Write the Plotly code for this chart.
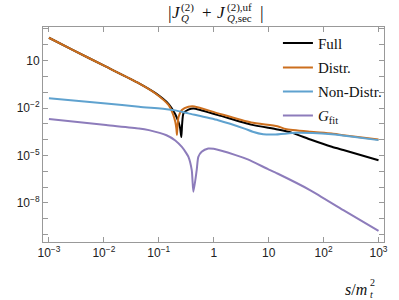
import numpy as np
import plotly.graph_objects as go

# ---- data (log10 of s/m_t^2 and log10 of |J|) ----
full_lx = [-3.0, -2.56, -1.96, -1.36, -1.06, -0.82, -0.70, -0.64, -0.61, -0.59, -0.575, -0.55, -0.46, -0.37, 0.08, 0.68, 1.16, 1.43, 1.76, 2.15, 2.36, 3.0]
full_ly = [2.44, 1.66, 0.61, -0.44, -1.06, -1.75, -2.40, -2.90, -3.30, -3.84, -3.00, -2.33, -2.10, -2.03, -2.45, -3.05, -3.36, -3.57, -3.99, -4.45, -4.66, -5.30]

distr_lx = [-3.0, -2.56, -1.96, -1.36, -1.06, -0.82, -0.74, -0.70, -0.68, -0.67, -0.66, -0.64, -0.58, -0.46, -0.35, 0.08, 0.68, 1.16, 1.31, 1.76, 2.15, 2.36, 3.0]
distr_ly = [2.44, 1.66, 0.61, -0.44, -1.08, -1.82, -2.40, -2.87, -3.30, -3.70, -3.20, -2.56, -2.13, -1.92, -1.90, -2.34, -2.92, -3.15, -3.33, -3.50, -3.61, -3.72, -3.99]

nondistr_lx = [-3.0, -1.96, -1.36, -0.82, -0.70, -0.46, 0.08, 0.56, 0.71, 0.90, 1.10, 1.50, 1.80, 2.15, 2.50, 3.0]
nondistr_ly = [-1.38, -1.71, -1.92, -2.09, -2.15, -2.34, -2.77, -3.30, -3.50, -3.66, -3.68, -3.57, -3.58, -3.66, -3.80, -4.03]

gfit_lx = [-3.0, -1.96, -1.36, -1.18, -0.86, -0.70, -0.58, -0.50, -0.46, -0.40, -0.37, -0.31, -0.28, -0.22, -0.10, 0.0, 0.40, 0.62, 0.98, 1.16, 1.76, 2.36, 3.0]
gfit_ly = [-2.70, -3.08, -3.29, -3.40, -3.72, -4.05, -4.46, -4.85, -5.09, -5.93, -7.30, -5.93, -5.09, -4.77, -4.56, -4.58, -4.98, -5.25, -5.85, -6.14, -7.20, -8.46, -9.77]

names = ["Full", "Distr.", "Non-Distr.", "<i>G</i><sub>fit</sub>"]
colors = ["#000000", "#CC6F1E", "#5FA2CF", "#8D7CBB"]

x_tickvals = [1e-3, 1e-2, 1e-1, 1, 10, 1e2, 1e3]
x_ticktext = ["10<sup>−3</sup>", "10<sup>−2</sup>", "10<sup>−1</sup>", "1", "10", "10<sup>2</sup>", "10<sup>3</sup>"]
y_tickvals = [10, 1e-2, 1e-5, 1e-8]
y_ticktext = ["10", "10<sup>−2</sup>", "10<sup>−5</sup>", "10<sup>−8</sup>"]
y_minorvals = [1e3, 1e2, 1, 1e-1, 1e-3, 1e-4, 1e-6, 1e-7, 1e-9, 1e-10]

series = [(full_lx, full_ly), (distr_lx, distr_ly), (nondistr_lx, nondistr_ly), (gfit_lx, gfit_ly)]

W, H = 399, 300
L, R, T, B = 43, 12, 27, 58
PW, PH = W - L - R, H - T - B

def px(xp):
    return (xp - L) / PW

def py(yp):
    return (H - B - yp) / PH

fig = go.Figure()
leg_names = ["legend", "legend2", "legend3", "legend4"]
leg_y = [43.3, 67.7, 91.7, 115.7]
for i, ((lx, ly), nm, c) in enumerate(zip(series, names, colors)):
    fig.add_trace(go.Scatter(
        x=10 ** np.array(lx), y=10 ** np.array(ly), mode="lines", name=nm,
        line=dict(color=c, width=2, shape="spline", smoothing=0.6),
        legend=leg_names[i], showlegend=True,
    ))

legfont = dict(family="Liberation Serif", size=15, color="#111")
for i, ln in enumerate(leg_names):
    fig.update_layout(**{ln: dict(x=px(280), y=py(leg_y[i]), xanchor="left", yanchor="middle",
                                  bgcolor="rgba(0,0,0,0)", font=legfont, borderwidth=0)})

axis_common = dict(type="log", showgrid=False, zeroline=False, showline=True, linecolor="#999",
                   linewidth=1, mirror="ticks", ticks="inside", ticklen=5, tickcolor="#999",
                   tickfont=dict(family="Liberation Sans", size=12, color="#222"))

fig.update_xaxes(range=[-3.108, 3.1], tickvals=x_tickvals, ticktext=x_ticktext, **axis_common)
fig.update_yaxes(range=[-10.47, 3.12], tickvals=y_tickvals, ticktext=y_ticktext,
                 minor=dict(tickvals=y_minorvals, ticks="inside", ticklen=5, tickcolor="#999", showgrid=False),
                 **axis_common)

serif = "Liberation Serif"
def ann(text, xp, yp, size):
    fig.add_annotation(text=text, x=px(xp), y=py(yp), xref="paper", yref="paper",
                       xanchor="left", yanchor="middle", showarrow=False,
                       font=dict(family=serif, size=size, color="#111"))

# title |J_Q^(2) + J_{Q,sec}^{(2),uf}|
ann("|", 167, 13, 18)
ann("<i>J</i>", 171, 12, 17)
ann("(2)", 180, 7, 11)
ann("<i>Q</i>", 180, 18, 11)
ann("+", 201, 12, 17)
ann("<i>J</i>", 217, 12, 17)
ann("(2),uf", 227, 7, 11)
ann("<i>Q</i>,sec", 227, 18, 11)
ann("|", 260, 13, 18)

# x-axis label s/m_t^2
ann("<i>s</i>/<i>m</i>", 346, 289, 16)
ann("2", 371, 282, 10)
ann("<i>t</i>", 371, 294, 10)

fig.update_layout(width=W, height=H, margin=dict(l=L, r=R, t=T, b=B), showlegend=True,
                  plot_bgcolor="white", paper_bgcolor="white")
fig.write_html("out.html", config={"displayModeBar": False},
               post_script="document.body.style.margin='0';document.body.style.overflow='hidden';")
